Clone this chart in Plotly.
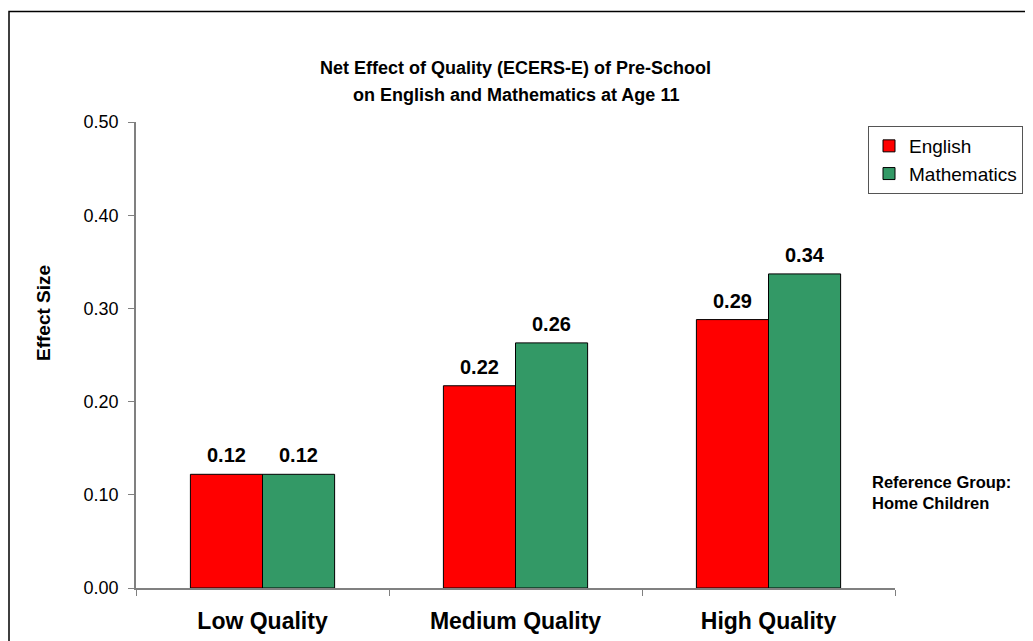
import plotly.graph_objects as go

categories = ["Low Quality", "Medium Quality", "High Quality"]
english = [0.122, 0.217, 0.288]
mathematics = [0.122, 0.263, 0.337]
y_ticks = [0.0, 0.1, 0.2, 0.3, 0.4, 0.5]

FONT = "Arial, Liberation Sans, sans-serif"
# page body has an 8px margin, so figure coordinates are shifted by 8px
W, H = 1025, 633
L, T = 128, 114
R = W - 887
B = H - 580
pw, ph = W - L - R, H - T - B

fig = go.Figure()
fig.add_trace(go.Bar(name="English", x=categories, y=english,
                     marker=dict(color="#FF0000", line=dict(color="black", width=1))))
fig.add_trace(go.Bar(name="Mathematics", x=categories, y=mathematics,
                     marker=dict(color="#339966", line=dict(color="black", width=1))))

bargap = 0.43
bar_px = pw / 3 * (1 - bargap) / 2
annotations = []
for series, shift in ((english, -bar_px / 2), (mathematics, bar_px / 2)):
    for c, v in zip(categories, series):
        annotations.append(dict(x=c, y=v, text=f"<b>{v:.2f}</b>", showarrow=False,
                                xshift=shift, yshift=6, yanchor="bottom",
                                font=dict(family=FONT, size=20, color="black")))

annotations.append(dict(xref="paper", yref="paper",
                        x=(862 - L) / pw, y=(580 - 463) / ph, xanchor="left", yanchor="top",
                        align="left", showarrow=False,
                        text="<b>Reference Group:<br>Home Children</b>",
                        font=dict(family=FONT, size=16.5, color="black")))

annotations.append(dict(xref="paper", yref="paper",
                        x=(35 - L) / pw, y=(580 - 305) / ph, xanchor="center", yanchor="middle",
                        textangle=-90, showarrow=False, text="<b>Effect Size</b>",
                        font=dict(family=FONT, size=19, color="black")))

# title lines placed individually to match the original line spacing
title_lines = ["Net Effect of Quality (ECERS-E) of Pre-School", "on English and Mathematics at Age 11"]
for i, line in enumerate(title_lines):
    annotations.append(dict(xref="paper", yref="paper", x=0.5, xanchor="center",
                            y=(580 - (60.5 + 26.5 * i)) / ph, yanchor="middle",
                            showarrow=False, text=f"<b>{line}</b>",
                            font=dict(family=FONT, size=18, color="black")))

fig.update_layout(
    width=W, height=H,
    margin=dict(l=L, r=R, t=T, b=B, autoexpand=False),
    paper_bgcolor="white", plot_bgcolor="white",
    barmode="group", bargap=bargap, bargroupgap=0,
    font=dict(family=FONT, size=18, color="black"),
    showlegend=True,
    legend=dict(x=(1015 - L) / pw, y=(580 - 118) / ph, xanchor="right", yanchor="top",
                bordercolor="#555555", borderwidth=1, bgcolor="white",
                font=dict(family=FONT, size=19, color="black"),
                tracegroupgap=0, itemwidth=30),
    annotations=annotations,
    shapes=[dict(type="rect", xref="paper", yref="paper",
                 x0=(1 - L) / pw, x1=(1045 - L) / pw,
                 y0=(580 - 660) / ph, y1=(580 - 3.5) / ph,
                 line=dict(color="black", width=1.5), fillcolor="rgba(0,0,0,0)", layer="below")],
)
fig.update_xaxes(showline=True, linecolor="#808080", linewidth=1.5,
                 ticks="outside", tickson="boundaries", ticklen=6, tickcolor="#808080",
                 tickfont=dict(family=FONT, size=23, color="black"),
                 tickprefix="<b>", ticksuffix="</b>", ticklabelstandoff=12,
                 showgrid=False, zeroline=False)
fig.update_yaxes(range=[0, 0.5], tickvals=y_ticks, tickformat=".2f",
                 showline=True, linecolor="#808080", linewidth=1.5,
                 ticks="outside", ticklen=6, tickcolor="#808080",
                 tickfont=dict(family=FONT, size=18, color="black"), ticklabelstandoff=6,
                 showgrid=False, zeroline=False)
fig.write_html("out.html")
